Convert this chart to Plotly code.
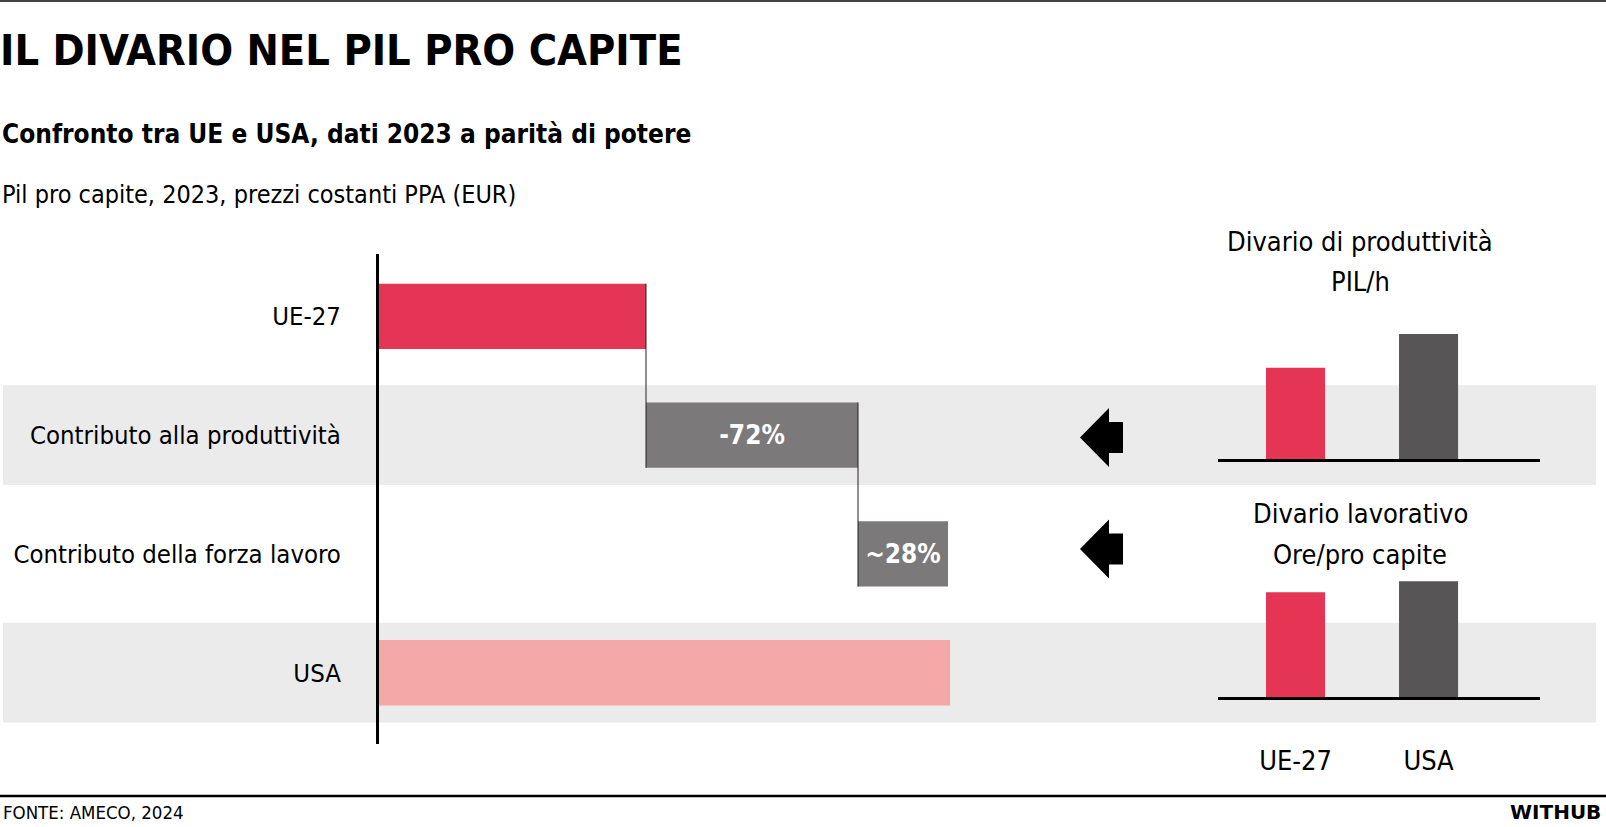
import plotly.graph_objects as go

W, H = 1606, 827
FONT = "Liberation Sans Narrow, DejaVu Sans Condensed, sans-serif"

# main waterfall data (index units)
rows = ["UE-27", "Contributo alla produttività", "Contributo della forza lavoro", "USA"]
ue_val = 26.7
prod_contrib = 21.2
lav_contrib = 9.0
usa_val = 57.1
contrib_labels = ["", "-72%", "~28%", ""]

# small charts (USA = 100)
mini_cats = ["UE-27", "USA"]
pil_h = [73, 100]
ore_pc = [90.5, 100]

RED = "#E53555"
GREY = "#7B7979"
PINK = "#F4A8A8"
DARK = "#575556"
BAND = "#EBEBEB"
BAR_W = 0.55


def px(x):
    return x / W


def py(y):
    return 1 - y / H


fig = go.Figure()

# waterfall bars
fig.add_trace(go.Bar(
    y=list(range(len(rows))),
    x=[ue_val, prod_contrib, lav_contrib, usa_val],
    base=[0, ue_val, ue_val + prod_contrib, 0],
    orientation="h",
    width=BAR_W,
    marker=dict(color=[RED, GREY, GREY, PINK], line=dict(width=0)),
    text=contrib_labels,
    textposition="inside",
    insidetextanchor="middle",
    textangle=0,
    constraintext="none",
    textfont=dict(family=FONT, size=26, color="white", weight=700),
    hoverinfo="skip",
    xaxis="x", yaxis="y",
))

# connectors between steps
h = BAR_W / 2
fig.add_trace(go.Scatter(
    x=[ue_val, ue_val, None, ue_val + prod_contrib, ue_val + prod_contrib],
    y=[0 - h, 1 + h, None, 1 - h, 2 + h],
    mode="lines", line=dict(color="#222222", width=1),
    hoverinfo="skip", xaxis="x", yaxis="y",
))

# mini chart 1: productivity
fig.add_trace(go.Bar(
    x=[0, 1], y=pil_h, width=0.444,
    marker=dict(color=[RED, DARK], line=dict(width=0)),
    hoverinfo="skip", xaxis="x2", yaxis="y2",
))
# mini chart 2: hours
fig.add_trace(go.Bar(
    x=[0, 1], y=ore_pc, width=0.444,
    marker=dict(color=[RED, DARK], line=dict(width=0)),
    hoverinfo="skip", xaxis="x3", yaxis="y3",
))

shapes = []
# grey bands behind rows 1 and 3
for r in (1, 3):
    shapes.append(dict(type="rect", xref="paper", yref="y",
                       x0=px(3), x1=px(1596), y0=r - 0.42, y1=r + 0.42,
                       fillcolor=BAND, line=dict(width=0), layer="below"))

# arrows
for cy in (437.5, 549):
    pts = [(1080, cy), (1109, cy - 29.5), (1109, cy - 15.5), (1123, cy - 15.5),
           (1123, cy + 15.5), (1109, cy + 15.5), (1109, cy + 29.5)]
    path = "M " + " L ".join(f"{px(a):.5f},{py(b):.5f}" for a, b in pts) + " Z"
    shapes.append(dict(type="path", xref="paper", yref="paper", path=path,
                       fillcolor="black", line=dict(width=0)))

# top rule and footer rule
shapes.append(dict(type="line", xref="paper", yref="paper", x0=0, x1=1,
                   y0=py(1), y1=py(1), line=dict(color="#444444", width=2)))
shapes.append(dict(type="line", xref="paper", yref="paper", x0=0, x1=1,
                   y0=py(796), y1=py(796), line=dict(color="black", width=2.5)))


def note(text, x, y, size, xanchor="left", weight=400, family=FONT, color="black"):
    return dict(text=text, x=px(x), y=py(y), xref="paper", yref="paper",
                xanchor=xanchor, yanchor="middle", showarrow=False,
                font=dict(family=family, size=size, color=color, weight=weight))


annotations = [
    note("IL DIVARIO NEL PIL PRO CAPITE", -2, 50, 43, weight=700),
    note("Confronto tra UE e USA, dati 2023 a parità di potere", 0, 134, 26, weight=700),
    note("Pil pro capite, 2023, prezzi costanti PPA (EUR)", 0, 194, 25),
    note("Divario di produttività", 1360, 242, 27, xanchor="center"),
    note("PIL/h", 1360, 281, 27, xanchor="center"),
    note("Divario lavorativo", 1360, 513, 27, xanchor="center"),
    note("Ore/pro capite", 1360, 554, 27, xanchor="center"),
    note("FONTE: AMECO, 2024", 1, 812, 18.5),
    note("WITHUB", 1603, 812, 20, xanchor="right", weight=700, family="DejaVu Sans"),
]

fig.update_layout(
    width=W, height=H,
    margin=dict(l=0, r=0, t=0, b=0),
    paper_bgcolor="white", plot_bgcolor="rgba(0,0,0,0)",
    showlegend=False, barmode="overlay",
    shapes=shapes, annotations=annotations,
    xaxis=dict(domain=[px(379), px(1000)], range=[0, 62.1], visible=False),
    yaxis=dict(domain=[py(744), py(254)], range=[3.6, -0.525],
               tickvals=list(range(len(rows))), ticktext=rows,
               showline=True, linecolor="black", linewidth=3,
               showgrid=False, zeroline=False, ticks="",
               ticklabelstandoff=30,
               tickfont=dict(family=FONT, size=25.5, color="black")),
    xaxis2=dict(domain=[px(1218), px(1540)], range=[-0.583, 1.838], anchor="y2",
                showline=True, linecolor="black", linewidth=3,
                showticklabels=False, ticks="", showgrid=False, zeroline=False),
    yaxis2=dict(domain=[py(459), py(309)], range=[0, 120], anchor="x2", visible=False),
    xaxis3=dict(domain=[px(1218), px(1540)], range=[-0.583, 1.838], anchor="y3",
                showline=True, linecolor="black", linewidth=3,
                tickvals=[0, 1], ticktext=mini_cats, ticks="",
                ticklabelstandoff=38, showgrid=False, zeroline=False,
                tickfont=dict(family=FONT, size=27, color="black")),
    yaxis3=dict(domain=[py(697), py(558)], range=[0, 120], anchor="x3", visible=False),
)

# page body has a default 8px margin; drop it so the figure fills the window
fig.write_html("out.html", config={"displayModeBar": False},
               post_script="document.body.style.margin='0px';")
